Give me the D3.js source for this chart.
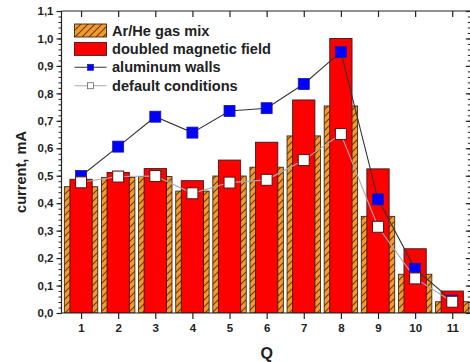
<!DOCTYPE html>
<html>
<head>
<meta charset="utf-8">
<script src="https://cdn.jsdelivr.net/npm/d3@7"></script>
<style>
  html, body { margin: 0; padding: 0; background: #fff; }
  svg { display: block; font-family: "Liberation Sans", Arial, sans-serif; font-weight: bold; }
</style>
</head>
<body>
<svg id="chart" width="470" height="362"></svg>
<script>
// Q values on the x axis
const categories = [1, 2, 3, 4, 5, 6, 7, 8, 9, 10, 11];
// Current (mA) for each condition
const arHeGasMix       = [0.460, 0.494, 0.497, 0.444, 0.499, 0.531, 0.645, 0.754, 0.352, 0.141, 0.041];
const doubledMagnetic  = [0.487, 0.512, 0.526, 0.482, 0.557, 0.622, 0.776, 1.000, 0.525, 0.234, 0.080];
const aluminumWalls    = [0.499, 0.606, 0.715, 0.657, 0.736, 0.746, 0.834, 0.951, 0.414, 0.161, 0.045];
const defaultConditions= [0.476, 0.497, 0.499, 0.436, 0.475, 0.485, 0.557, 0.652, 0.314, 0.126, 0.041];
const yTickValues = [0, 0.1, 0.2, 0.3, 0.4, 0.5, 0.6, 0.7, 0.8, 0.9, 1.0, 1.1];
const yTickLabels = ["0,0", "0,1", "0,2", "0,3", "0,4", "0,5", "0,6", "0,7", "0,8", "0,9", "1,0", "1,1"];
const legendLabels = ["Ar/He gas mix", "doubled magnetic field", "aluminum walls", "default conditions"];

const svg = d3.select("#chart");
const pL = 61.5, pR = 470.8, pT = 11, pB = 313;

const x = d3.scaleLinear().domain([0.5, 11.5]).range([pL + 1, pR]);
const y = d3.scaleLinear().domain([0, 1.1]).range([pB, pT]);
const step = x(2) - x(1);

// hatch pattern for the gas-mix bars
const defs = svg.append("defs");
const pat = defs.append("pattern")
  .attr("id", "hatch").attr("patternUnits", "userSpaceOnUse")
  .attr("width", 7).attr("height", 7);
pat.append("rect").attr("width", 7).attr("height", 7).attr("fill", "#f39a2c");
pat.append("path").attr("d", "M-1,8 L8,-1 M-4,4 L4,-4 M3,11 L11,3")
  .attr("stroke", "#6b3a10").attr("stroke-width", 1.1);

const clip = defs.append("clipPath").attr("id", "plotclip");
clip.append("rect").attr("x", pL).attr("y", pT).attr("width", pR - pL).attr("height", pB - pT);
const plot = svg.append("g").attr("clip-path", "url(#plotclip)");

// wide hatched bars
const wideW = step * 0.9;
plot.selectAll("rect.gas").data(categories).join("rect")
  .attr("class", "gas")
  .attr("x", d => x(d) - wideW / 2)
  .attr("y", (d, i) => y(arHeGasMix[i]))
  .attr("width", wideW)
  .attr("height", (d, i) => y(0) - y(arHeGasMix[i]))
  .attr("fill", "url(#hatch)").attr("stroke", "#3a2a1a").attr("stroke-width", 0.9);

// narrow red bars
const narrowW = step * 0.6;
plot.selectAll("rect.mag").data(categories).join("rect")
  .attr("class", "mag")
  .attr("x", d => x(d) - narrowW / 2)
  .attr("y", (d, i) => y(doubledMagnetic[i]))
  .attr("width", narrowW)
  .attr("height", (d, i) => y(0) - y(doubledMagnetic[i]))
  .attr("fill", "#ff0000").attr("stroke", "#3a1a1a").attr("stroke-width", 0.9);

const line = d3.line().x((d, i) => x(categories[i])).y(d => y(d));

// aluminum walls series
plot.append("path").datum(aluminumWalls).attr("d", line)
  .attr("fill", "none").attr("stroke", "#333").attr("stroke-width", 1.1);
// default conditions series line
plot.append("path").datum(defaultConditions).attr("d", line)
  .attr("fill", "none").attr("stroke", "#aaaaaa").attr("stroke-width", 1.1);

const ms = 11;
plot.selectAll("rect.al").data(aluminumWalls).join("rect")
  .attr("class", "al")
  .attr("x", (d, i) => x(categories[i]) - ms / 2)
  .attr("y", d => y(d) - ms / 2)
  .attr("width", ms).attr("height", ms)
  .attr("fill", "#0000ff").attr("stroke", "#1a1a9a").attr("stroke-width", 0.8);
plot.selectAll("rect.def").data(defaultConditions).join("rect")
  .attr("class", "def")
  .attr("x", (d, i) => x(categories[i]) - ms / 2)
  .attr("y", d => y(d) - ms / 2)
  .attr("width", ms).attr("height", ms)
  .attr("fill", "#ffffff").attr("stroke", "#5a1a1a").attr("stroke-width", 1.1);

// axes
const fmt = v => yTickLabels[yTickValues.findIndex(t => Math.abs(t - v) < 1e-9)];
const minorY = d3.range(0, 1.1001, 0.02);

const yAxis = d3.axisLeft(y).tickValues(yTickValues).tickFormat(fmt).tickSize(5).tickPadding(3);
const gy = svg.append("g").attr("transform", `translate(${pL},0)`).call(yAxis);
gy.selectAll("text").attr("font-size", 11.5).attr("font-weight", "bold").attr("fill", "#222")
  .attr("font-family", "Liberation Sans, Arial, sans-serif");
gy.selectAll("line, path").attr("stroke", "#222").attr("stroke-width", 1.2);
gy.select(".domain").attr("d", `M0,${pT}V${pB}`);

const gyMinor = svg.append("g").attr("transform", `translate(${pL},0)`)
  .call(d3.axisLeft(y).tickValues(minorY).tickFormat("").tickSize(3));
gyMinor.select(".domain").remove();
gyMinor.selectAll("line").attr("stroke", "#222").attr("stroke-width", 1);

const xAxis = d3.axisBottom(x).tickValues(categories).tickFormat(d3.format("d")).tickSize(6).tickPadding(5);
const gx = svg.append("g").attr("transform", `translate(0,${pB})`).call(xAxis);
gx.selectAll("text").attr("font-size", 11.5).attr("font-weight", "bold").attr("fill", "#222")
  .attr("font-family", "Liberation Sans, Arial, sans-serif");
gx.selectAll("line, path").attr("stroke", "#222").attr("stroke-width", 1.2);
gx.select(".domain").attr("d", `M${pL},0H${pR}`);

// top axis, ticks pointing inward
const gt = svg.append("g").attr("transform", `translate(0,${pT})`)
  .call(d3.axisBottom(x).tickValues(categories).tickFormat("").tickSize(6));
gt.selectAll("line, path").attr("stroke", "#222").attr("stroke-width", 1.2);
gt.select(".domain").attr("d", `M${pL},0H${pR}`);

// right axis, ticks pointing inward
const gr = svg.append("g").attr("transform", `translate(${pR},0)`)
  .call(d3.axisLeft(y).tickValues(yTickValues).tickFormat("").tickSize(5));
gr.selectAll("line, path").attr("stroke", "#222").attr("stroke-width", 1.2);
gr.select(".domain").attr("d", `M0,${pT}V${pB}`);
const grMinor = svg.append("g").attr("transform", `translate(${pR},0)`)
  .call(d3.axisLeft(y).tickValues(minorY).tickFormat("").tickSize(3));
grMinor.select(".domain").remove();
grMinor.selectAll("line").attr("stroke", "#222").attr("stroke-width", 1);

// axis titles
svg.append("text").attr("x", x(6)).attr("y", 359).attr("text-anchor", "middle")
  .attr("font-size", 16).attr("fill", "#222").text("Q");
svg.append("text").attr("transform", `translate(26,172) rotate(-90)`)
  .attr("text-anchor", "middle").attr("font-size", 14.6).attr("fill", "#222").text("current, mA");

// legend
const lg = svg.append("g").attr("font-size", 14.6).attr("fill", "#222");
const lx = 74.5, ly0 = 30.5, lgap = 18.4, boxW = 32, boxH = 13;
lg.append("rect").attr("x", lx).attr("y", ly0 - boxH / 2).attr("width", boxW).attr("height", boxH)
  .attr("fill", "url(#hatch)").attr("stroke", "#3a2a1a").attr("stroke-width", 0.9);
lg.append("rect").attr("x", lx).attr("y", ly0 + lgap - boxH / 2).attr("width", boxW).attr("height", boxH)
  .attr("fill", "#ff0000").attr("stroke", "#3a1a1a").attr("stroke-width", 0.9);
lg.append("line").attr("x1", lx).attr("x2", lx + boxW).attr("y1", ly0 + 2 * lgap).attr("y2", ly0 + 2 * lgap)
  .attr("stroke", "#333").attr("stroke-width", 1.1);
lg.append("rect").attr("x", lx + boxW / 2 - 3).attr("y", ly0 + 2 * lgap - 3).attr("width", 6).attr("height", 6)
  .attr("fill", "#0000ff").attr("stroke", "#1a1a9a").attr("stroke-width", 0.7);
lg.append("line").attr("x1", lx).attr("x2", lx + boxW).attr("y1", ly0 + 3 * lgap).attr("y2", ly0 + 3 * lgap)
  .attr("stroke", "#aaaaaa").attr("stroke-width", 1.1);
lg.append("rect").attr("x", lx + boxW / 2 - 3).attr("y", ly0 + 3 * lgap - 3).attr("width", 6).attr("height", 6)
  .attr("fill", "#fff").attr("stroke", "#666").attr("stroke-width", 0.8);
lg.selectAll("text.leg").data(legendLabels).join("text")
  .attr("class", "leg")
  .attr("x", lx + boxW + 5.5)
  .attr("y", (d, i) => ly0 + i * lgap)
  .attr("dy", "0.35em")
  .text(d => d);
</script>
</body>
</html>
